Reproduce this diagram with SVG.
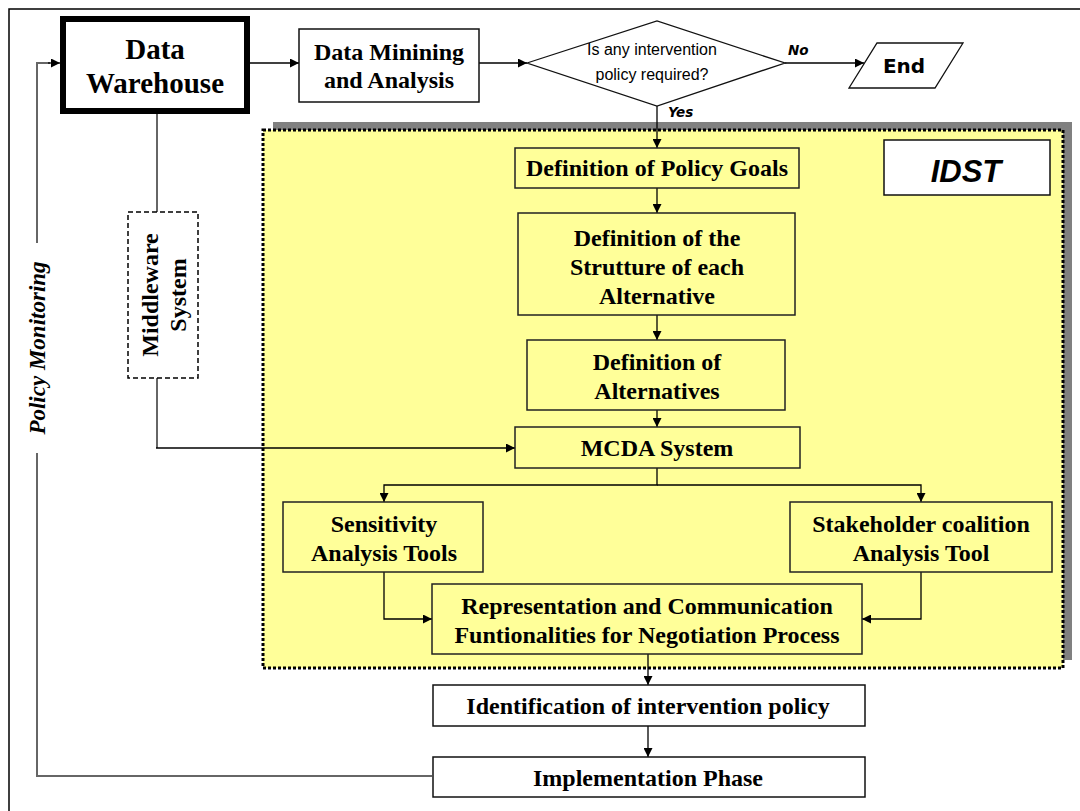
<svg xmlns="http://www.w3.org/2000/svg" width="1080" height="811" viewBox="0 0 1080 811">
<defs>
<marker id="ah" viewBox="0 0 10 10" refX="10" refY="5" markerWidth="10" markerHeight="9" markerUnits="userSpaceOnUse" orient="auto">
<path d="M0,0 L10,5 L0,10 z" fill="#000"/>
</marker>
<style>
.box{fill:#fff;stroke:#111;stroke-width:1.5}
.ybox{fill:#ffff99;stroke:#222;stroke-width:1.5}
.t{font-family:"Liberation Serif","Times New Roman",serif;font-weight:bold;font-size:24px;fill:#000;text-anchor:middle}
.big{font-size:29px}
.mw{font-size:24px}
.line{fill:none;stroke:#000;stroke-width:1.3}
.gline{fill:none;stroke:#666;stroke-width:2}
.lbl{font-family:"DejaVu Sans",Verdana,sans-serif;font-weight:bold;font-style:italic;font-size:13.5px;fill:#000}
</style>
</defs>
<rect width="1080" height="811" fill="#fff"/>
<rect x="9" y="9" width="1100" height="850" fill="none" stroke="#000" stroke-width="1.5"/>

<g id="idst-panel">
<rect x="273" y="122" width="799" height="538" fill="#808080"/>
<rect x="263" y="130" width="800" height="538" fill="#ffff99" stroke="#000" stroke-width="3" stroke-dasharray="3 2"/>
</g>

<g id="connectors">
<line class="line" x1="250" y1="63" x2="299" y2="63" marker-end="url(#ah)"/>
<line class="line" x1="479" y1="63" x2="527" y2="63" marker-end="url(#ah)"/>
<line class="line" x1="785" y1="63" x2="864" y2="63" marker-end="url(#ah)"/>
<line class="line" x1="657" y1="106" x2="657" y2="148" marker-end="url(#ah)"/>
<line class="line" x1="657" y1="188" x2="657" y2="213" marker-end="url(#ah)"/>
<line class="line" x1="657" y1="315" x2="657" y2="340" marker-end="url(#ah)"/>
<line class="line" x1="657" y1="410" x2="657" y2="427" marker-end="url(#ah)"/>
<polyline class="line" points="657,467 657,485 384,485 384,502" marker-end="url(#ah)"/>
<polyline class="line" points="657,485 921,485 921,502" marker-end="url(#ah)"/>
<polyline class="line" points="384,572 384,619 432,619" marker-end="url(#ah)"/>
<polyline class="line" points="921,572 921,619 862,619" marker-end="url(#ah)"/>
<line class="line" x1="648" y1="654" x2="648" y2="685" marker-end="url(#ah)"/>
<line class="line" x1="648" y1="726" x2="648" y2="757" marker-end="url(#ah)"/>
<line class="gline" x1="157" y1="113" x2="157" y2="212"/>
<line class="gline" x1="157" y1="378" x2="157" y2="448"/>
<line class="line" x1="156" y1="448" x2="515" y2="448" marker-end="url(#ah)"/>
<polyline class="gline" points="432,776 37,776 37,453"/>
<polyline class="gline" points="37,243 37,63 50,63"/>
<line class="line" x1="48" y1="63" x2="60" y2="63" marker-end="url(#ah)"/>
<text class="lbl" x="788" y="55">No</text>
<text class="lbl" x="668" y="117">Yes</text>
</g>

<g id="data-warehouse">
<rect x="63" y="19" width="184" height="92" fill="#fff" stroke="#000" stroke-width="6"/>
<text class="t big" x="155" y="59">Data</text>
<text class="t big" x="155" y="93">Warehouse</text>
</g>

<g id="data-mining">
<rect class="box" x="299" y="29" width="180" height="73"/>
<text class="t" x="389" y="60">Data Minining</text>
<text class="t" x="389" y="88">and Analysis</text>
</g>

<g id="decision">
<polygon points="527,63 657,21 785,63 657,106" fill="#fff" stroke="#111" stroke-width="1.3"/>
<text x="652" y="55" font-family="'Liberation Sans',Arial,sans-serif" font-size="16" text-anchor="middle">Is any intervention</text>
<text x="652" y="80" font-family="'Liberation Sans',Arial,sans-serif" font-size="16" text-anchor="middle">policy required?</text>
</g>

<g id="end">
<polygon points="877,43 963,43 935,88 849,88" fill="#fff" stroke="#111" stroke-width="1.3"/>
<text x="904" y="73" font-family="'DejaVu Sans',Verdana,sans-serif" font-weight="bold" font-size="20" text-anchor="middle">End</text>
</g>

<g id="idst-label">
<rect x="884" y="140" width="166" height="55" fill="#fff" stroke="#111" stroke-width="1.5"/>
<text x="966" y="182" font-family="'Liberation Sans',Arial,sans-serif" font-weight="bold" font-style="italic" font-size="31" text-anchor="middle">IDST</text>
</g>

<g id="policy-goals">
<rect class="ybox" x="515" y="148" width="284" height="40"/>
<text class="t" x="657" y="176">Definition of Policy Goals</text>
</g>

<g id="structure">
<rect class="ybox" x="518" y="213" width="277" height="102"/>
<text class="t" x="657" y="246">Definition of the</text>
<text class="t" x="657" y="275">Strutture of each</text>
<text class="t" x="657" y="304">Alternative</text>
</g>

<g id="alternatives">
<rect class="ybox" x="527" y="340" width="258" height="70"/>
<text class="t" x="657" y="370">Definition of</text>
<text class="t" x="657" y="399">Alternatives</text>
</g>

<g id="mcda">
<rect class="ybox" x="515" y="427" width="285" height="41"/>
<text class="t" x="657" y="456">MCDA System</text>
</g>

<g id="sensitivity">
<rect class="ybox" x="283" y="502" width="200" height="70"/>
<text class="t" x="384" y="532">Sensitivity</text>
<text class="t" x="384" y="561">Analysis Tools</text>
</g>

<g id="stakeholder">
<rect class="ybox" x="790" y="502" width="262" height="70"/>
<text class="t" x="921" y="532">Stakeholder coalition</text>
<text class="t" x="921" y="561">Analysis Tool</text>
</g>

<g id="representation">
<rect class="ybox" x="432" y="584" width="430" height="70"/>
<text class="t" x="647" y="614">Representation and Communication</text>
<text class="t" x="647" y="643">Funtionalities for Negotiation Process</text>
</g>

<g id="identification">
<rect class="box" x="433" y="685" width="432" height="41"/>
<text class="t" x="648" y="714">Identification of intervention policy</text>
</g>

<g id="implementation">
<rect class="box" x="433" y="757" width="432" height="40"/>
<text class="t" x="648" y="786">Implementation Phase</text>
</g>

<g id="middleware">
<rect x="128" y="212" width="70" height="166" fill="#fff" stroke="#000" stroke-width="1.5" stroke-dasharray="5 3"/>
<text class="t mw" transform="translate(158,295) rotate(-90)" x="0" y="0">Middleware</text>
<text class="t mw" transform="translate(186,295) rotate(-90)" x="0" y="0">System</text>
</g>

<g id="policy-monitoring">
<text transform="translate(45,348) rotate(-90)" font-family="'Liberation Serif','Times New Roman',serif" font-weight="bold" font-style="italic" font-size="23" text-anchor="middle">Policy Monitoring</text>
</g>
</svg>
